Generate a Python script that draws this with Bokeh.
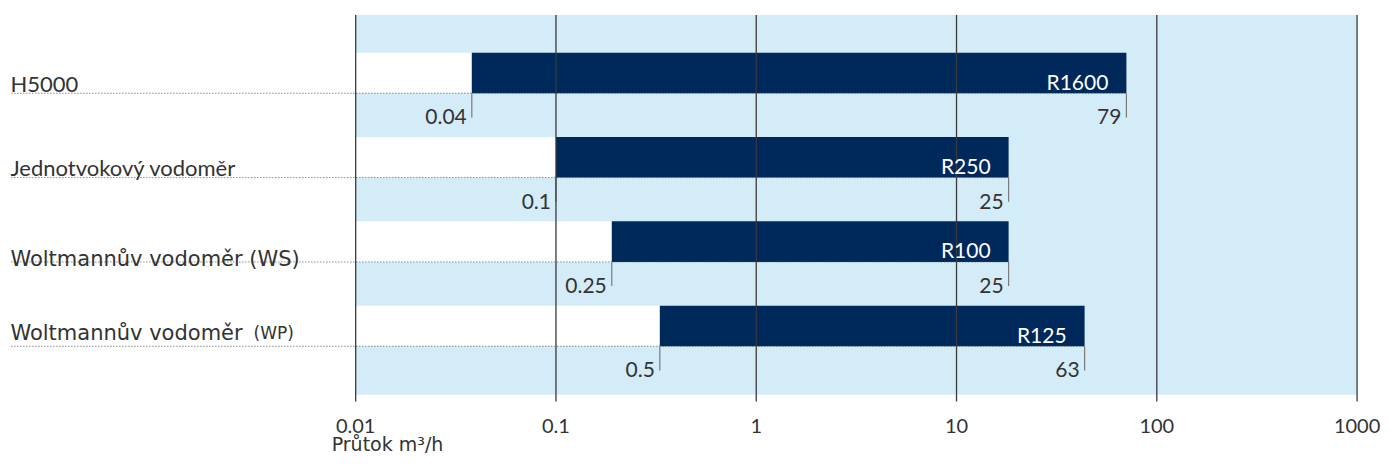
from bokeh.plotting import figure
from bokeh.models import Range1d
from bokeh.core.properties import value
from bokeh.embed import file_html
from bokeh.resources import INLINE

# ---------------- data ----------------
meters = ["H5000", "Jednotvokový vodoměr", "Woltmannův vodoměr (WS)", "Woltmannův vodoměr"]
meter_suffix = ["", "", "", "(WP)"]
ratios = ["R1600", "R250", "R100", "R125"]
q_min_label = ["0.04", "0.1", "0.25", "0.5"]
q_max_label = ["79", "25", "25", "63"]
q_min_drawn = [0.038, 0.1, 0.19, 0.33]
q_max_drawn = [70.5, 18.2, 18.2, 43.6]
tick_values = [0.01, 0.1, 1, 10, 100, 1000]
tick_labels = ["0.01", "0.1", "1", "10", "100", "1000"]
axis_title = "Průtok  m³/h"

# ---------------- layout (pixels) ----------------
W, H = 1381, 457
SX, SY = W / 1397, H / 473      # reference -> canvas scale
X0 = 359.3 * SX                 # canvas x of 0.01
DEC = 202.6 * SX                # px per decade
ROW = 87.3 * SY                 # px per row
ROW0 = 75.0 * SY                # canvas y of first row centre


def rx(ref_x):
    return 10 ** (-2 + (ref_x * SX - X0) / DEC)


def ry(ref_y):
    return (ref_y * SY - ROW0) / ROW


def dy(ref_px):
    return ref_px * SY / ROW


half = dy(21)
rows = list(range(len(meters)))

NAVY = "#00295b"
LIGHT = "#d4ecf7"
TXT = "#333333"
NUMFONT = value("Lato")
SANS = value("DejaVu Sans")

p = figure(width=W, height=H, x_axis_type="log",
           x_range=Range1d(rx(0), rx(1397)),
           y_range=Range1d(ry(473), ry(0)),
           output_backend="svg", toolbar_location=None,
           x_axis_location=None, y_axis_location=None,
           min_border=0, outline_line_color=None,
           background_fill_color="white", border_fill_color="white")
p.xgrid.visible = False
p.ygrid.visible = False

lo, hi = tick_values[0], tick_values[-1]

# light blue background
p.quad(left=[lo], right=[hi], top=[ry(15)], bottom=[ry(408)],
       fill_color=LIGHT, line_color=None)

# white band before the range
p.quad(left=[lo] * len(rows), right=q_min_drawn,
       top=[r - half for r in rows], bottom=[r + half for r in rows],
       fill_color="white", line_color=None)

# dark bars
p.quad(left=q_min_drawn, right=q_max_drawn,
       top=[r - half for r in rows], bottom=[r + half for r in rows],
       fill_color=NAVY, line_color=None)

# dotted leader lines
p.segment(x0=[rx(11)] * len(rows), x1=q_max_drawn,
          y0=[r + half for r in rows], y1=[r + half for r in rows],
          line_color="#555555", line_width=1, line_dash="1 2")

# end ticks
tick_len = dy(25)
p.segment(x0=q_min_drawn + q_max_drawn, x1=q_min_drawn + q_max_drawn,
          y0=[r + half for r in rows] * 2, y1=[r + half + tick_len for r in rows] * 2,
          line_color="#7a7a7a", line_width=1.2)

# vertical grid lines
p.segment(x0=tick_values, x1=tick_values,
          y0=[ry(15)] * len(tick_values), y1=[ry(415)] * len(tick_values),
          line_color="#3a3a3a", line_width=1.3)

# ratio labels inside bars
p.text(x=q_max_drawn, y=[r + dy(8.5) for r in rows], text=ratios,
       text_font=NUMFONT, text_font_size="21px", text_color="white",
       text_align="right", text_baseline="alphabetic", x_offset=-18)

# min / max value labels
p.text(x=q_min_drawn, y=[r + dy(45.5) for r in rows], text=q_min_label,
       text_font=NUMFONT, text_font_size="21px", text_color=TXT,
       text_align="right", text_baseline="alphabetic", x_offset=-5)
p.text(x=q_max_drawn, y=[r + dy(45.5) for r in rows], text=q_max_label,
       text_font=NUMFONT, text_font_size="21px", text_color=TXT,
       text_align="right", text_baseline="alphabetic", x_offset=-5)

# row labels
label_dy = [11, 10.5, 17.5, 7]
label_font = [NUMFONT, NUMFONT, SANS, SANS]
label_size = ["22px", "22px", "21px", "21px"]
for r in rows:
    p.text(x=[rx(10)], y=[r + dy(label_dy[r])], text=[meters[r]],
           text_font=label_font[r], text_font_size=label_size[r], text_color=TXT,
           text_align="left", text_baseline="alphabetic")
    if meter_suffix[r]:
        p.text(x=[rx(256)], y=[r + dy(label_dy[r])], text=[meter_suffix[r]],
               text_font=SANS, text_font_size="17px", text_color=TXT,
               text_align="left", text_baseline="alphabetic")

# x tick labels
p.text(x=tick_values, y=[ry(440)] * len(tick_values), text=tick_labels,
       text_font=NUMFONT, text_font_size="20px", text_color=TXT,
       text_align="center", text_baseline="alphabetic")

# axis title
p.text(x=[rx(335)], y=[ry(459)], text=[axis_title],
       text_font=SANS, text_font_size="19px", text_color=TXT,
       text_align="left", text_baseline="alphabetic")

open("out.html", "w").write(file_html(p, INLINE))
